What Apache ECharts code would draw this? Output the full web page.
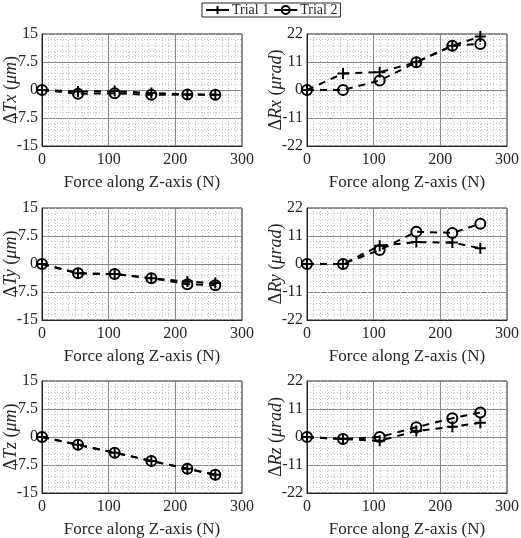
<!DOCTYPE html>
<html>
<head>
<meta charset="utf-8">
<script src="https://cdn.jsdelivr.net/npm/echarts@6/dist/echarts.min.js"></script>
<style>
  html, body { margin: 0; padding: 0; background: #fff; }
  #chart { width: 521px; height: 538px; }
</style>
</head>
<body>
<div id="chart"></div>
<script>
// force along Z (N)
const force = [0, 54, 109, 164, 218, 260];

const txTrial1 = [0, -0.4, -0.3, -0.8, -1.2, -1.3];
const txTrial2 = [0, -1.0, -0.9, -1.3, -1.2, -1.3];
const rxTrial1 = [0, 6.5, 7.0, 10.9, 17.4, 21.0];
const rxTrial2 = [0, 0, 3.7, 10.9, 17.4, 18.1];
const tyTrial1 = [0, -2.5, -2.7, -3.8, -4.7, -5.1];
const tyTrial2 = [0, -2.5, -2.7, -3.8, -5.4, -5.7];
const ryTrial1 = [0, 0, 7.2, 8.6, 8.4, 6.2];
const ryTrial2 = [0, 0, 5.5, 12.7, 12.2, 15.8];
const tzTrial1 = [0, -2.1, -4.2, -6.4, -8.5, -10.1];
const tzTrial2 = [0, -2.1, -4.2, -6.4, -8.5, -10.1];
const rzTrial1 = [0, -0.8, -1.5, 2.4, 4.0, 5.6];
const rzTrial2 = [0, -0.8, 0, 3.8, 7.4, 9.6];

const transTicks = { min: -15, max: 15, interval: 7.5 };
const rotTicks = { min: -22, max: 22, interval: 11 };

const serif = "Liberation Serif";
const ink = "#262626";
const plusPath = "path://M5,0L5,10M0,5L10,5";

// one panel per subplot: [label rich text, ticks, trial1, trial2]
const panels = [
  ["Δ{i|Tx} ({i|μm})", transTicks, txTrial1, txTrial2],
  ["Δ{i|Rx} ({i|μrad})", rotTicks, rxTrial1, rxTrial2],
  ["Δ{i|Ty} ({i|μm})", transTicks, tyTrial1, tyTrial2],
  ["Δ{i|Ry} ({i|μrad})", rotTicks, ryTrial1, ryTrial2],
  ["Δ{i|Tz} ({i|μm})", transTicks, tzTrial1, tzTrial2],
  ["Δ{i|Rz} ({i|μrad})", rotTicks, rzTrial1, rzTrial2],
];

const lefts = [42, 307];
const tops = [34, 208, 381];

const grids = [], xAxes = [], yAxes = [], series = [];

panels.forEach(([label, ticks, t1, t2], i) => {
  grids.push({
    left: lefts[i % 2], top: tops[Math.floor(i / 2)], width: 200, height: 112,
    outerBoundsMode: "none", containLabel: false,
    show: true, borderColor: ink, borderWidth: 1, backgroundColor: "#fff",
  });
  xAxes.push({
    gridIndex: i, type: "value", min: 0, max: 300, interval: 100,
    name: "Force along Z-axis (N)", nameLocation: "middle", nameGap: 28,
    nameMoveOverlap: false,
    nameTextStyle: { fontFamily: serif, fontSize: 17, color: ink },
    axisLine: { show: true, onZero: false, lineStyle: { color: ink } },
    axisTick: { show: false },
    axisLabel: { fontFamily: serif, fontSize: 16, color: ink, margin: 6 },
    splitLine: { show: true, lineStyle: { color: "#8a8a8a", width: 1 } },
    minorTick: { show: false, splitNumber: 10 },
    minorSplitLine: { show: true, lineStyle: { color: "#c2c2c2", type: [1, 2], width: 1 } },
  });
  yAxes.push({
    gridIndex: i, type: "value", min: ticks.min, max: ticks.max, interval: ticks.interval,
    name: label, nameLocation: "middle", nameGap: 22, nameRotate: 90,
    nameMoveOverlap: false,
    nameTextStyle: {
      fontFamily: serif, fontSize: 18, color: ink,
      rich: { i: { fontFamily: serif, fontSize: 18, fontStyle: "italic", color: ink } },
    },
    axisLine: { show: true, lineStyle: { color: ink } },
    axisTick: { show: false },
    axisLabel: { fontFamily: serif, fontSize: 16, color: ink, margin: 4 },
    splitLine: { show: true, lineStyle: { color: "#8a8a8a", width: 1 } },
    minorTick: { show: false, splitNumber: 5 },
    minorSplitLine: { show: true, lineStyle: { color: "#c2c2c2", type: [1, 2], width: 1 } },
  });
  series.push({
    name: "Trial 1", type: "line", xAxisIndex: i, yAxisIndex: i,
    data: force.map((f, k) => [f, t1[k]]),
    symbol: plusPath, symbolSize: 11,
    lineStyle: { color: "#000", width: 2, type: [7, 6] },
    itemStyle: { color: "none", borderColor: "#000", borderWidth: 2 },
    emphasis: { disabled: true }, z: 3,
  });
  series.push({
    name: "Trial 2", type: "line", xAxisIndex: i, yAxisIndex: i,
    data: force.map((f, k) => [f, t2[k]]),
    symbol: "circle", symbolSize: 10,
    lineStyle: { color: "#000", width: 2, type: [7, 6] },
    itemStyle: { color: "none", borderColor: "#000", borderWidth: 2 },
    emphasis: { disabled: true }, z: 3,
  });
});

const chart = echarts.init(document.getElementById("chart"));
chart.setOption({
  animation: false,
  backgroundColor: "#fff",
  legend: {
    data: ["Trial 1", "Trial 2"],
    left: 202, top: 3,
    itemWidth: 23, itemHeight: 10, itemGap: 4,
    padding: [0, 3, 0, 3],
    borderColor: ink, borderWidth: 1, backgroundColor: "#fff",
    textStyle: { fontFamily: serif, fontSize: 14, color: ink, padding: [0, 0, 0, -2] },
    lineStyle: { type: "solid", width: 2 },
  },
  grid: grids,
  xAxis: xAxes,
  yAxis: yAxes,
  series: series,
});
</script>
</body>
</html>
